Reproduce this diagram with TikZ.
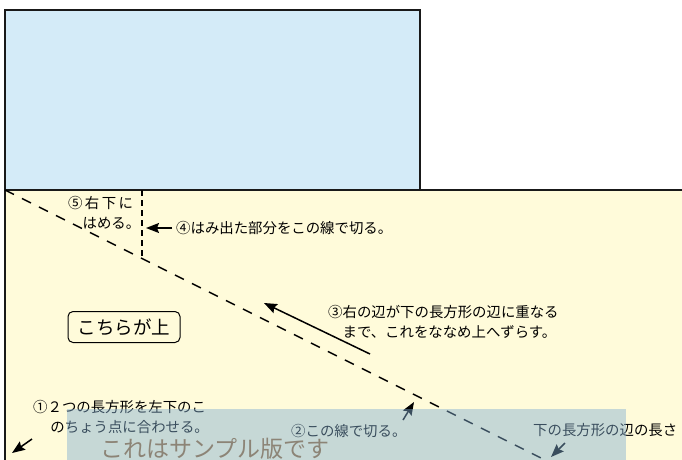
\documentclass[tikz,border=0pt]{standalone}
\usepackage{fontspec}
\setmainfont{Noto Sans CJK JP}
\usepackage{tikz}
\usetikzlibrary{arrows.meta}

\definecolor{upperblue}{RGB}{212,235,248}
\definecolor{loweryellow}{RGB}{255,251,218}
\definecolor{samplecol}{RGB}{130,175,210}
\definecolor{sampletext}{RGB}{140,132,118}

\begin{document}
\begin{tikzpicture}[
    x=1pt, y=-1pt,
    rectline/.style={draw=black!90, line width=2pt},
    cutline/.style={line width=1.4pt, dash pattern=on 10pt off 9pt},
    cutshort/.style={line width=1.4pt, dash pattern=on 6pt off 4pt},
    note/.style={inner sep=0pt, align=left, font=\fontsize{14.4}{20}\selectfont},
    arr/.style={line width=1.5pt, -{Stealth[length=13pt,width=10pt,inset=2pt]}}
    ]

    \useasboundingbox (0,0) rectangle (682,459);
    \clip (0,0) rectangle (682,459);

    % 長方形
    \filldraw[rectline, fill=upperblue] (5,10) rectangle (420,190);
    \filldraw[rectline, fill=loweryellow] (5,190) rectangle (700,480);

    % 切る線
    \coordinate (corner) at (5,190);
    \coordinate (top4) at (142,190);
    \coordinate (kink) at (142,258.5);
    \draw[cutline] (corner) -- ++(620,310);
    \draw[cutshort] (top4) -- (kink);

    % 文字
    \node (t5) [note, anchor=north west] at (68,196)
        {⑤\,右\,下\,に\\\hspace*{1em}はめる。};
    \node (t4) [note, inner xsep=4pt, anchor=west] at (172,228)
        {④はみ出た部分をこの線で切る。};
    \node (upside) [draw, line width=1pt, rounded corners=5pt, fill=loweryellow,
        minimum width=112pt, minimum height=31pt, inner sep=0pt,
        font=\fontsize{18.5}{20}\selectfont] at (124,327) {こちらが上};
    \node (t3) [note, anchor=north west, font=\fontsize{14.4}{20.5}\selectfont] at (328,305)
        {③右の辺が下の長方形の辺に重なる\\\hspace*{1em}まで、これをななめ上へずらす。};
    \node (t1) [note, anchor=north west] at (33,400)
        {①２つの長方形を左下のこ\\\hspace*{1.2em}のちょう点に合わせる。};
    \node (t2) [note, anchor=west] at (291,431) {②この線で切る。};
    \node (tlen) [note, anchor=west] at (533,430) {下の長方形の辺の長さ};

    % 矢印
    \coordinate (cut4) at (146,228);
    \coordinate (a3s) at (370,354);
    \coordinate (a3e) at (264,303);
    \coordinate (a1s) at (32,439);
    \coordinate (a1e) at (12,453);
    \coordinate (a2s) at (403,420);
    \coordinate (a2e) at (414,402);
    \coordinate (als) at (565,443);
    \coordinate (ale) at (551,457);
    \draw[arr] (t4.west) -- (cut4);
    \draw[arr] (a3s) -- (a3e);
    \draw[arr] (a1s) -- (a1e);
    \draw[arr] (a2s) -- (a2e);
    \draw[arr] (als) -- (ale);

    % サンプル
    \fill[samplecol, fill opacity=0.45] (67,409) rectangle (626,470);
    \node (sample) [inner sep=0pt, anchor=west, text=sampletext,
        font=\fontsize{23}{25}\selectfont] at (100,449) {これはサンプル版です};

\end{tikzpicture}
\end{document}
